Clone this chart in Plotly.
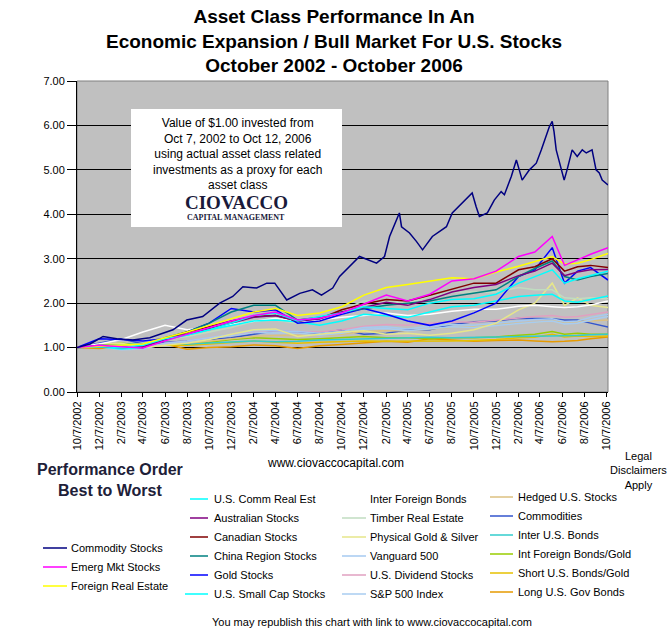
import plotly.graph_objects as go

# ---------------- data ----------------
grid_dates = ["2002-10-07", "2002-12-07", "2003-02-07", "2003-04-07", "2003-06-07", "2003-08-07",
              "2003-10-07", "2003-12-07", "2004-02-07", "2004-04-07", "2004-06-07", "2004-08-07",
              "2004-10-07", "2004-12-07", "2005-02-07", "2005-04-07", "2005-06-07", "2005-08-07",
              "2005-10-07", "2005-12-07", "2006-02-07", "2006-03-24", "2006-05-11", "2006-06-14",
              "2006-07-20", "2006-08-25", "2006-10-12"]

commodity_stocks_dates = ["2002-10-07", "2002-11-12", "2002-12-18", "2003-01-25", "2003-03-10", "2003-04-26",
                          "2003-06-29", "2003-08-06", "2003-09-19", "2003-11-05", "2003-12-11", "2004-01-08",
                          "2004-02-15", "2004-03-14", "2004-04-05", "2004-04-24", "2004-05-08", "2004-06-13",
                          "2004-07-18", "2004-08-12", "2004-09-12", "2004-10-01", "2004-11-25", "2005-01-11",
                          "2005-02-02", "2005-02-16", "2005-03-15", "2005-03-21", "2005-04-12", "2005-05-01",
                          "2005-05-18", "2005-06-14", "2005-07-23", "2005-08-08", "2005-09-05", "2005-10-02",
                          "2005-10-13", "2005-10-22", "2005-11-13", "2005-12-02", "2005-12-21", "2005-12-30",
                          "2006-01-18", "2006-02-01", "2006-02-09", "2006-02-17", "2006-03-09", "2006-03-28",
                          "2006-04-11", "2006-04-24", "2006-05-03", "2006-05-11", "2006-05-16", "2006-05-22",
                          "2006-05-30", "2006-06-13", "2006-06-21", "2006-07-05", "2006-07-19", "2006-08-02",
                          "2006-08-13", "2006-08-29", "2006-09-09", "2006-09-18", "2006-09-26", "2006-10-12"]
commodity_stocks = [1.00, 1.08, 1.25, 1.20, 1.17, 1.22,
                    1.40, 1.62, 1.70, 2.00, 2.15, 2.37,
                    2.34, 2.45, 2.45, 2.22, 2.07, 2.22,
                    2.30, 2.18, 2.34, 2.60, 3.05, 2.90,
                    3.05, 3.50, 4.03, 3.72, 3.58, 3.39,
                    3.20, 3.50, 3.72, 4.03, 4.25, 4.48,
                    4.17, 3.95, 4.03, 4.32, 4.51, 4.44,
                    4.85, 5.22, 5.00, 4.77, 5.00, 5.15,
                    5.45, 5.75, 5.97, 6.09, 5.86, 5.45,
                    5.22, 4.77, 5.00, 5.45, 5.30, 5.45,
                    5.38, 5.45, 5.00, 4.93, 4.77, 4.66]

emerg_mkt_stocks = [1.00, 1.05, 1.02, 0.99, 1.15, 1.30, 1.45, 1.60, 1.72, 1.80, 1.62, 1.66, 1.78, 1.98,
                    2.18, 2.05, 2.20, 2.50, 2.55, 2.72, 3.05, 3.15, 3.50, 2.85, 2.98, 3.10, 3.25]
foreign_real_estate = [1.00, 1.03, 1.05, 1.08, 1.22, 1.35, 1.50, 1.65, 1.80, 1.88, 1.72, 1.78, 1.92, 2.18,
                       2.35, 2.42, 2.50, 2.57, 2.55, 2.70, 2.83, 2.93, 3.05, 2.88, 2.90, 2.98, 3.12]
us_comm_real_est = [1.00, 1.02, 1.00, 1.05, 1.20, 1.28, 1.40, 1.55, 1.72, 1.78, 1.60, 1.70, 1.78, 1.92,
                    1.88, 1.85, 2.00, 2.08, 2.10, 2.20, 2.45, 2.60, 2.75, 2.45, 2.55, 2.62, 2.72]
australian_stocks = [1.00, 1.02, 1.00, 1.02, 1.18, 1.30, 1.42, 1.55, 1.68, 1.72, 1.60, 1.65, 1.80, 1.90,
                     2.02, 1.95, 2.08, 2.25, 2.35, 2.42, 2.62, 2.72, 2.90, 2.62, 2.70, 2.75, 2.76]
canadian_stocks = [1.00, 1.03, 1.02, 1.00, 1.20, 1.35, 1.47, 1.60, 1.70, 1.72, 1.60, 1.65, 1.85, 1.98,
                   2.08, 2.05, 2.18, 2.32, 2.45, 2.45, 2.75, 2.82, 3.00, 2.72, 2.82, 2.85, 2.80]
china_region_stocks = [1.00, 1.05, 1.03, 1.00, 1.22, 1.35, 1.55, 1.80, 1.95, 1.95, 1.62, 1.68, 1.80, 1.88,
                       1.95, 2.00, 2.05, 2.15, 2.22, 2.30, 2.60, 2.78, 2.95, 2.60, 2.52, 2.60, 2.67]
gold_stocks = [1.00, 1.20, 1.18, 1.15, 1.20, 1.35, 1.55, 1.88, 1.80, 1.85, 1.55, 1.60, 1.75, 1.88,
               1.75, 1.60, 1.50, 1.60, 1.78, 2.00, 2.60, 2.75, 3.25, 2.45, 2.72, 2.80, 2.52]
us_small_cap_stocks = [1.00, 1.02, 0.97, 1.00, 1.18, 1.28, 1.40, 1.50, 1.60, 1.62, 1.58, 1.50, 1.60, 1.75,
                       1.72, 1.68, 1.80, 1.92, 1.95, 2.05, 2.15, 2.18, 2.20, 2.05, 2.02, 2.08, 2.16]
inter_foreign_bonds = [1.00, 1.08, 1.18, 1.35, 1.50, 1.40, 1.45, 1.52, 1.60, 1.66, 1.58, 1.62, 1.68, 1.72,
                       1.78, 1.72, 1.75, 1.82, 1.86, 1.86, 1.93, 1.95, 1.92, 1.90, 1.92, 1.96, 2.05]
timber_real_estate = [1.00, 1.02, 1.05, 1.08, 1.20, 1.25, 1.35, 1.45, 1.60, 1.62, 1.55, 1.62, 1.85, 2.05,
                      2.05, 2.00, 2.15, 2.25, 2.25, 2.25, 2.35, 2.30, 2.30, 2.12, 2.10, 2.12, 2.10]
physical_gold_silver = [1.00, 1.08, 1.10, 1.00, 1.05, 1.10, 1.18, 1.30, 1.40, 1.42, 1.25, 1.30, 1.35, 1.38,
                        1.30, 1.32, 1.28, 1.32, 1.40, 1.55, 1.85, 2.00, 2.45, 1.95, 2.12, 1.95, 1.90]
vanguard_500 = [1.00, 1.03, 0.97, 0.98, 1.10, 1.15, 1.22, 1.30, 1.38, 1.38, 1.36, 1.32, 1.36, 1.45,
                1.47, 1.42, 1.48, 1.52, 1.50, 1.55, 1.60, 1.63, 1.65, 1.58, 1.60, 1.68, 1.75]
us_dividend_stocks = [1.00, 1.02, 0.98, 0.98, 1.10, 1.15, 1.22, 1.30, 1.36, 1.38, 1.36, 1.35, 1.40, 1.48,
                      1.52, 1.50, 1.55, 1.58, 1.57, 1.62, 1.66, 1.70, 1.72, 1.68, 1.70, 1.75, 1.80]
sp500_index = [1.00, 1.02, 0.95, 0.97, 1.08, 1.12, 1.20, 1.27, 1.34, 1.33, 1.33, 1.28, 1.32, 1.41,
               1.43, 1.38, 1.43, 1.47, 1.45, 1.50, 1.54, 1.57, 1.60, 1.53, 1.55, 1.62, 1.70]
hedged_us_stocks = [1.00, 1.02, 1.00, 1.00, 1.08, 1.10, 1.15, 1.20, 1.25, 1.27, 1.28, 1.27, 1.30, 1.36,
                    1.38, 1.38, 1.42, 1.46, 1.48, 1.52, 1.55, 1.57, 1.60, 1.57, 1.58, 1.60, 1.62]
commodities = [1.00, 1.10, 1.20, 1.08, 1.12, 1.15, 1.18, 1.22, 1.30, 1.38, 1.35, 1.32, 1.40, 1.30,
               1.32, 1.40, 1.40, 1.52, 1.58, 1.60, 1.66, 1.65, 1.65, 1.62, 1.62, 1.55, 1.46]
inter_us_bonds = [1.00, 1.03, 1.06, 1.08, 1.12, 1.08, 1.10, 1.12, 1.15, 1.13, 1.14, 1.17, 1.18, 1.19,
                  1.20, 1.21, 1.23, 1.22, 1.23, 1.24, 1.25, 1.25, 1.26, 1.26, 1.27, 1.29, 1.30]
int_foreign_bonds_gold = [1.00, 1.06, 1.10, 1.05, 1.10, 1.08, 1.12, 1.18, 1.22, 1.20, 1.18, 1.20, 1.22, 1.25,
                          1.22, 1.22, 1.20, 1.22, 1.22, 1.24, 1.28, 1.30, 1.36, 1.30, 1.32, 1.30, 1.30]
short_us_bonds_gold = [1.00, 1.05, 1.08, 1.02, 1.05, 1.05, 1.08, 1.12, 1.15, 1.12, 1.10, 1.12, 1.14, 1.15,
                       1.14, 1.14, 1.14, 1.15, 1.16, 1.18, 1.22, 1.23, 1.30, 1.24, 1.26, 1.25, 1.26]
long_us_gov_bonds = [1.00, 0.98, 1.02, 1.03, 1.08, 0.96, 1.00, 1.02, 1.06, 1.04, 0.98, 1.04, 1.07, 1.10,
                     1.14, 1.12, 1.20, 1.17, 1.14, 1.16, 1.17, 1.15, 1.13, 1.14, 1.16, 1.20, 1.24]

series_names = ["Commodity Stocks", "Emerg Mkt Stocks", "Foreign Real Estate", "U.S. Comm Real Est",
                "Australian Stocks", "Canadian Stocks", "China Region Stocks", "Gold Stocks",
                "U.S. Small Cap Stocks", "Inter Foreign Bonds", "Timber Real Estate",
                "Physical Gold & Silver", "Vanguard 500", "U.S. Dividend Stocks", "S&P 500 Index",
                "Hedged U.S. Stocks", "Commodities", "Inter U.S. Bonds", "Int Foreign Bonds/Gold",
                "Short U.S. Bonds/Gold", "Long U.S. Gov Bonds"]
series_values = [commodity_stocks, emerg_mkt_stocks, foreign_real_estate, us_comm_real_est,
                 australian_stocks, canadian_stocks, china_region_stocks, gold_stocks,
                 us_small_cap_stocks, inter_foreign_bonds, timber_real_estate,
                 physical_gold_silver, vanguard_500, us_dividend_stocks, sp500_index,
                 hedged_us_stocks, commodities, inter_us_bonds, int_foreign_bonds_gold,
                 short_us_bonds_gold, long_us_gov_bonds]
series_dates = [commodity_stocks_dates] + [grid_dates] * 20
series_colors = ["#000080", "#FF00FF", "#FFFF00", "#00FFFF", "#800080", "#800000", "#008080", "#0000FF",
                 "#00FFFF", "#FFFFFF", "#C0DCC0", "#E6E68A", "#A6CAF0", "#E0A0C0", "#A8CCF0",
                 "#DCC080", "#3355CC", "#33CCCC", "#99CC00", "#E6C000", "#E69A00"]

x_tick_dates = ["2002-10-07", "2002-12-07", "2003-02-07", "2003-04-07", "2003-06-07", "2003-08-07",
                "2003-10-07", "2003-12-07", "2004-02-07", "2004-04-07", "2004-06-07", "2004-08-07",
                "2004-10-07", "2004-12-07", "2005-02-07", "2005-04-07", "2005-06-07", "2005-08-07",
                "2005-10-07", "2005-12-07", "2006-02-07", "2006-04-07", "2006-06-07", "2006-08-07",
                "2006-10-07"]
x_tick_labels = ["10/7/2002", "12/7/2002", "2/7/2003", "4/7/2003", "6/7/2003", "8/7/2003",
                 "10/7/2003", "12/7/2003", "2/7/2004", "4/7/2004", "6/7/2004", "8/7/2004",
                 "10/7/2004", "12/7/2004", "2/7/2005", "4/7/2005", "6/7/2005", "8/7/2005",
                 "10/7/2005", "12/7/2005", "2/7/2006", "4/7/2006", "6/7/2006", "8/7/2006",
                 "10/7/2006"]
y_tick_values = [0, 1, 2, 3, 4, 5, 6, 7]
y_tick_labels = ["0.00", "1.00", "2.00", "3.00", "4.00", "5.00", "6.00", "7.00"]

# ---------------- layout helpers ----------------
W, H = 672, 641
PL, PR, PT, PB = 77, 608, 81, 392   # plot area in window pixels


def fx(x):
    return (x - PL) / (PR - PL)


def fy(y):
    return (PB - y) / (PB - PT)


fig = go.Figure()
for i in reversed(range(len(series_names))):
    fig.add_trace(go.Scatter(x=series_dates[i], y=series_values[i], mode="lines",
                             name=series_names[i], line=dict(color=series_colors[i], width=1.5),
                             showlegend=False))

shapes = []
annotations = []
FONT = "Arial, Liberation Sans, sans-serif"

# plot border (gray)
shapes.append(dict(type="rect", xref="paper", yref="paper", x0=0, x1=1, y0=0, y1=1,
                   line=dict(color="#808080", width=1), layer="below"))

# info box
shapes.append(dict(type="rect", xref="paper", yref="paper", x0=fx(131), x1=fx(342), y0=fy(227), y1=fy(109),
                   fillcolor="#FFFFFF", line=dict(width=0), layer="above"))
annotations.append(dict(xref="paper", yref="paper", x=fx(237), y=fy(154), xanchor="center", yanchor="middle",
                        showarrow=False, align="center",
                        text="Value of $1.00 invested from<br>Oct 7, 2002 to Oct 12, 2006<br>"
                             "using actual asset class related<br>investments as a proxy for each<br>asset class",
                        font=dict(family=FONT, size=12, color="#000000")))
annotations.append(dict(xref="paper", yref="paper", x=fx(236), y=fy(202), xanchor="center", yanchor="middle",
                        showarrow=False, text="<b>CIOVACCO</b>",
                        font=dict(family="Liberation Serif, Times New Roman, serif", size=19, color="#1A1A3A")))
annotations.append(dict(xref="paper", yref="paper", x=fx(236), y=fy(217), xanchor="center", yanchor="middle",
                        showarrow=False, text="<b>CAPITAL MANAGEMENT</b>",
                        font=dict(family="Liberation Serif, Times New Roman, serif", size=8, color="#1A1A3A")))

# title
annotations.append(dict(xref="paper", yref="paper", x=fx(334), y=fy(41), xanchor="center", yanchor="middle",
                        showarrow=False, align="center",
                        text="<b>Asset Class Performance In An<br>Economic Expansion / Bull Market For U.S. Stocks"
                             "<br>October 2002 - October 2006</b>",
                        font=dict(family=FONT, size=19, color="#000000")))

# other texts
annotations.append(dict(xref="paper", yref="paper", x=fx(335), y=fy(463), xanchor="center", yanchor="middle",
                        showarrow=False, text="www.ciovaccocapital.com",
                        font=dict(family=FONT, size=12, color="#000000")))
annotations.append(dict(xref="paper", yref="paper", x=fx(638), y=fy(470), xanchor="center", yanchor="middle",
                        showarrow=False, align="center", text="Legal<br>Disclaimers<br>Apply",
                        font=dict(family=FONT, size=11, color="#000000")))
annotations.append(dict(xref="paper", yref="paper", x=fx(372), y=fy(622), xanchor="center", yanchor="middle",
                        showarrow=False, text="You may republish this chart with link to www.ciovaccocapital.com",
                        font=dict(family=FONT, size=11, color="#000000")))
annotations.append(dict(xref="paper", yref="paper", x=fx(110), y=fy(480), xanchor="center", yanchor="middle",
                        showarrow=False, align="center", text="<b>Performance Order<br>Best to Worst</b>",
                        font=dict(family=FONT, size=16, color="#202038")))

# manual legend: (line x0, line x1, text x, y) per series in order
legend_pos = [(43, 67, 69, 548), (43, 67, 69, 567), (43, 67, 69, 586),
              (190, 208, 212, 499), (190, 208, 212, 518), (190, 208, 212, 537),
              (190, 208, 212, 556), (190, 208, 212, 575), (185, 208, 212, 594),
              (342, 366, 368, 499), (342, 366, 368, 518), (342, 366, 368, 537),
              (342, 366, 368, 556), (342, 366, 368, 575), (342, 366, 368, 594),
              (490, 513, 516, 497), (490, 513, 516, 516), (490, 513, 516, 535),
              (490, 513, 516, 554), (490, 513, 516, 573), (490, 513, 516, 592)]
for i, (lx0, lx1, tx, ly) in enumerate(legend_pos):
    shapes.append(dict(type="line", xref="paper", yref="paper", x0=fx(lx0), x1=fx(lx1), y0=fy(ly), y1=fy(ly),
                       line=dict(color=series_colors[i], width=1.5)))
    annotations.append(dict(xref="paper", yref="paper", x=fx(tx), y=fy(ly), xanchor="left", yanchor="middle",
                            showarrow=False, text=series_names[i],
                            font=dict(family=FONT, size=11, color="#000000")))

fig.update_layout(
    width=W, height=H,
    margin=dict(l=PL, r=W - PR, t=PT, b=H - PB),
    paper_bgcolor="#FFFFFF", plot_bgcolor="#C0C0C0",
    showlegend=False,
    shapes=shapes, annotations=annotations,
    xaxis=dict(type="date", range=["2002-10-07", "2006-10-12"], tickmode="array",
               tickvals=x_tick_dates, ticktext=x_tick_labels, tickangle=-90,
               showgrid=False, zeroline=False, showline=True, linecolor="#000000", linewidth=1,
               ticks="outside", ticklen=4, tickcolor="#000000",
               tickfont=dict(family=FONT, size=11, color="#000000")),
    yaxis=dict(range=[0, 7], tickmode="array", tickvals=y_tick_values, ticktext=y_tick_labels,
               showgrid=True, gridcolor="#000000", gridwidth=1, zeroline=False,
               showline=True, linecolor="#000000", linewidth=1,
               ticks="outside", ticklen=9, tickcolor="#000000",
               tickfont=dict(family=FONT, size=11, color="#000000")),
)

# remove the default 8px page margin so the figure fills the 672x641 window exactly
fig.write_html("out.html",
               config={"displayModeBar": False, "staticPlot": True},
               post_script="document.body.style.margin='0';document.body.style.overflow='hidden';")
